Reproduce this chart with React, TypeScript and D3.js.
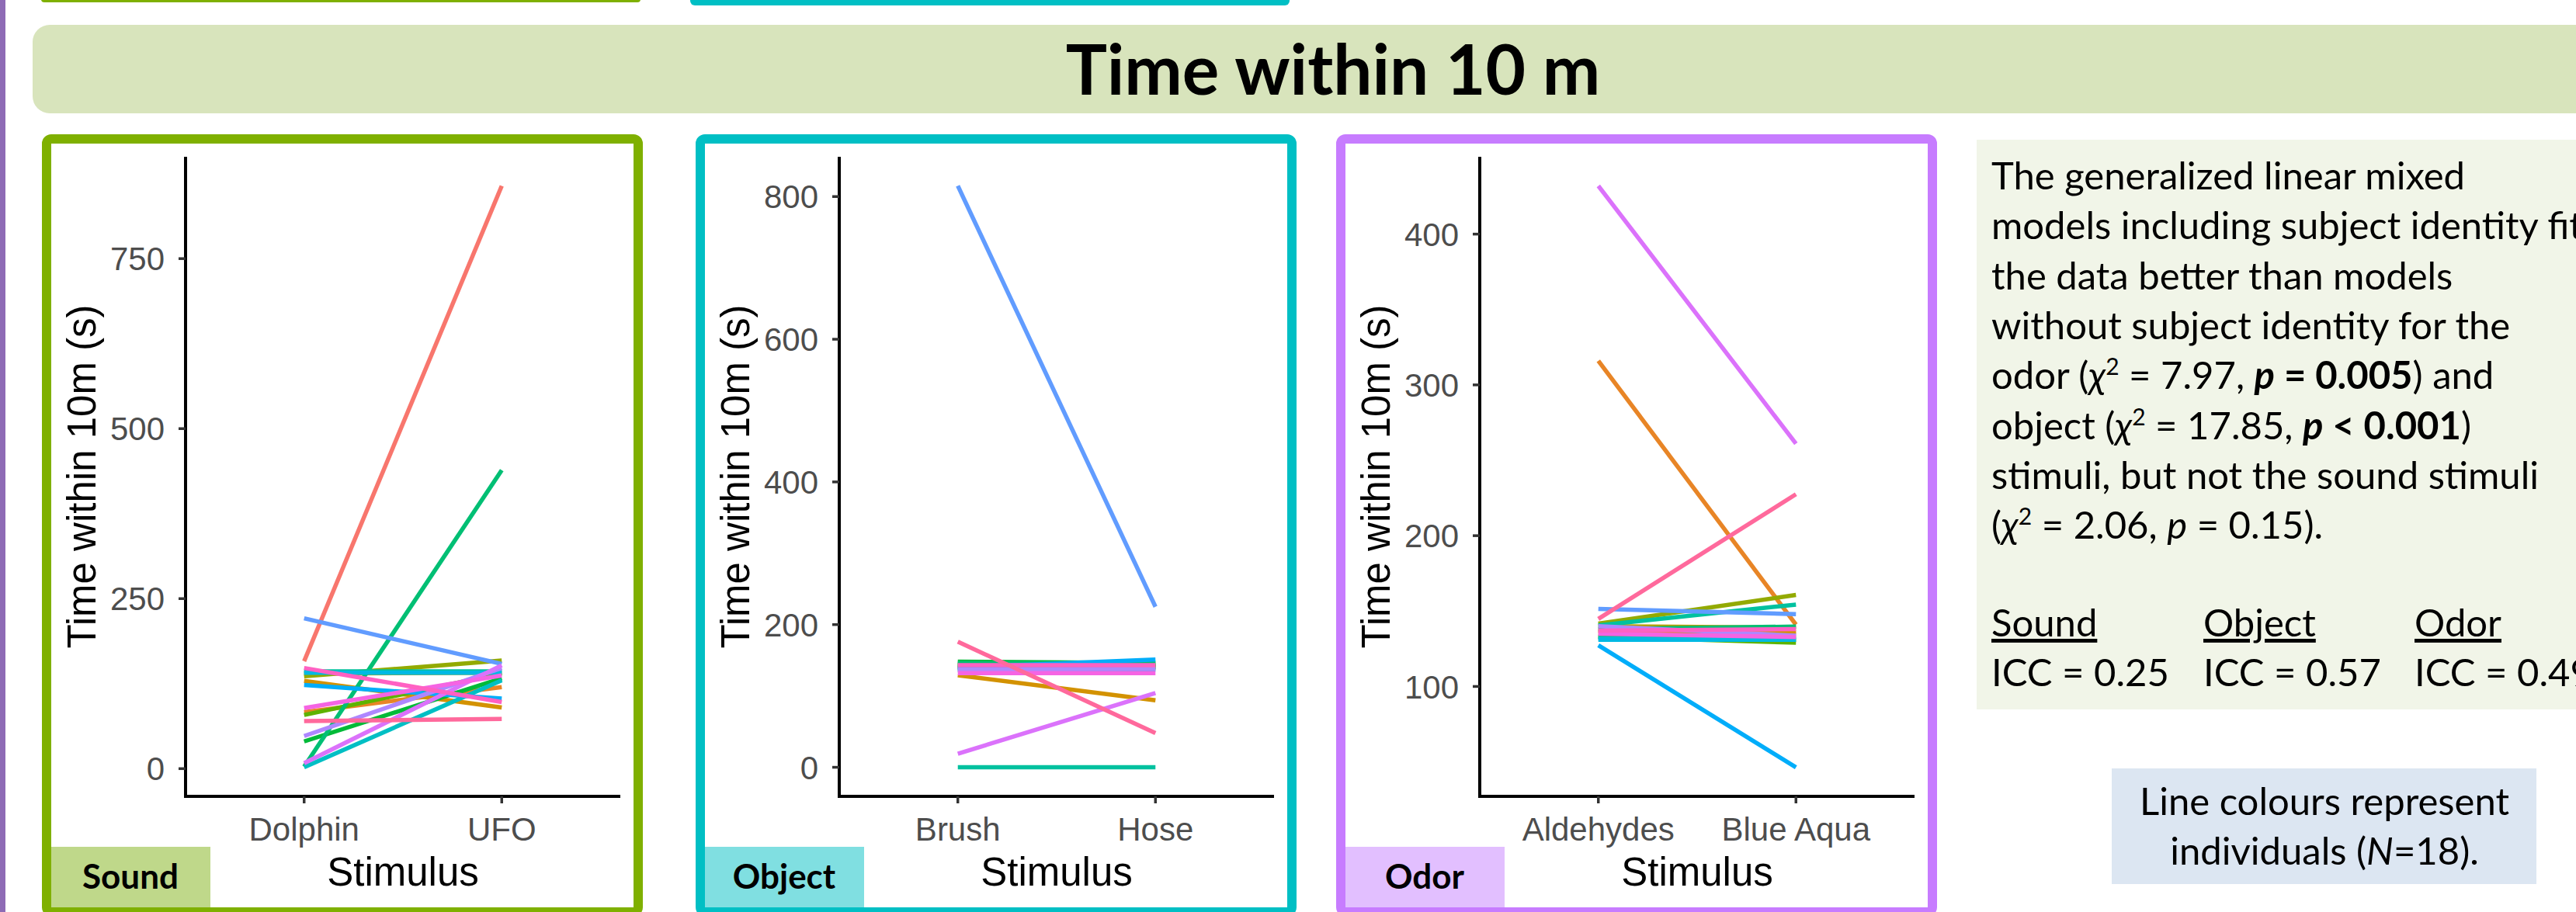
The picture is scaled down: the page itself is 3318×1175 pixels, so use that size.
import React from 'react';
import * as d3 from 'd3';

// one colour per individual (ggplot hue palette, 18 levels)
const individuals = d3.range(1, 19).map(i => `ID${i}`);
const individualColors = [
  '#F8766D', '#E88526', '#D39200', '#B79F00', '#93AA00', '#5EB300',
  '#00BA38', '#00BF74', '#00C19F', '#00BFC4', '#00B9E3', '#00ADFA',
  '#619CFF', '#AE87FF', '#DB72FB', '#F564E3', '#FF61C3', '#FF699C'
];

// Sound
const soundStimuli = ['Dolphin', 'UFO'];
const soundDolphin = [158, 83, 129, 140, 136, 79, 40, 3, 143, 2, 141, 123, 221, 48, 8, 89, 148, 70];
const soundUFO = [857, 120, 90, 141, 159, 140, 133, 439, 143, 130, 141, 103, 154, 148, 152, 137, 98, 73];
const soundTicks = [0, 250, 500, 750];

// Object
const objectStimuli = ['Brush', 'Hose'];
const objectBrush = [140, 138, 129, 141, 142, 144, 148, 146, 0, 139, 136, 140, 815, 137, 19, 132, 143, 176];
const objectHose = [140, 139, 94, 141, 142, 144, 146, 145, 0, 140, 137, 151, 225, 138, 104, 132, 143, 48];
const objectTicks = [0, 200, 400, 600, 800];

// Odor
const odorStimuli = ['Aldehydes', 'Blue Aqua'];
const odorAldehydes = [136, 316, 137, 140, 141.7, 133, 133, 138, 140.5, 132, 131, 127.3, 151.4, 140, 432, 135, 137, 144.8];
const odorBlueAqua = [135, 141, 136, 139, 160.7, 129, 132, 139.7, 154.3, 131, 131, 46.4, 148, 133.7, 261, 132.8, 138, 227.5];
const odorTicks = [100, 200, 300, 400];

const W = 3318;
const H = 1175;
const PLOT_TOP = 202;
const PLOT_BOTTOM = 1026;
const AXIS_FONT = "'Liberation Sans', Arial, sans-serif";
const POSTER_FONT = "Lato, 'Open Sans', sans-serif";

type PanelProps = {
  frameX: number;
  stimuli: string[];
  first: number[];
  second: number[];
  ticks: number[];
  frameColor: string;
  labelFill: string;
  label: string;
};

const LinePanel = ({ frameX, stimuli, first, second, ticks, frameColor, labelFill, label }: PanelProps) => {
  const axisX = frameX + 185;
  const axisRight = axisX + 560;

  const all = first.concat(second);
  const [lo, hi] = d3.extent(all) as [number, number];
  const pad = (hi - lo) * 0.05;
  const y = d3.scaleLinear().domain([lo - pad, hi + pad]).range([PLOT_BOTTOM, PLOT_TOP]);
  const x = d3.scalePoint<string>().domain(stimuli).range([axisX, axisRight]).padding(0.6);

  const line = d3.line<[string, number]>().x(d => x(d[0]) as number).y(d => y(d[1]));

  return (
    <g>
      <rect x={frameX + 6} y={179} width={762} height={996} rx={6}
        fill="#fff" stroke={frameColor} strokeWidth={12} />

      {individuals.map((id, i) => (
        <path key={id} d={line([[stimuli[0], first[i]], [stimuli[1], second[i]]]) || ''}
          fill="none" stroke={individualColors[i]} strokeWidth={5.5} />
      ))}

      {/* y axis */}
      <line x1={axisX} x2={axisX} y1={PLOT_TOP} y2={PLOT_BOTTOM + 2} stroke="#000" strokeWidth={4} />
      {ticks.map(t => (
        <g key={t} transform={`translate(0,${y(t)})`}>
          <line x1={axisX - 9} x2={axisX} stroke="#333" strokeWidth={3.5} />
          <text x={axisX - 27} dy="0.36em" textAnchor="end" fontFamily={AXIS_FONT}
            fontSize={42} fill="#4D4D4D">{t}</text>
        </g>
      ))}
      <text transform={`translate(${axisX - 116},${(PLOT_TOP + PLOT_BOTTOM) / 2}) rotate(-90)`}
        textAnchor="middle" fontFamily={AXIS_FONT} fontSize={51} fill="#000">Time within 10m (s)</text>

      {/* x axis */}
      <line x1={axisX - 2} x2={axisRight} y1={PLOT_BOTTOM} y2={PLOT_BOTTOM} stroke="#000" strokeWidth={4} />
      {stimuli.map(s => (
        <g key={s} transform={`translate(${x(s)},0)`}>
          <line y1={PLOT_BOTTOM} y2={PLOT_BOTTOM + 9} stroke="#333" strokeWidth={3.5} />
          <text y={1083} textAnchor="middle" fontFamily={AXIS_FONT} fontSize={42} fill="#4D4D4D">{s}</text>
        </g>
      ))}
      <text x={(axisX + axisRight) / 2} y={1141} textAnchor="middle" fontFamily={AXIS_FONT}
        fontSize={51} fill="#000">Stimulus</text>

      {/* modality label */}
      <rect x={frameX + 12} y={1091} width={205} height={78} fill={labelFill} />
      <text x={frameX + 114} y={1145} textAnchor="middle" fontFamily={POSTER_FONT}
        fontWeight={700} fontSize={44} fill="#000">{label}</text>
    </g>
  );
};

type Seg = { t: string; b?: boolean; i?: boolean; sup?: boolean };

const noteLines: Seg[][] = [
  [{ t: 'The generalized linear mixed' }],
  [{ t: 'models including subject identity fit' }],
  [{ t: 'the data better than models' }],
  [{ t: 'without subject identity for the' }],
  [{ t: 'odor (' }, { t: 'χ', i: true }, { t: '2', sup: true }, { t: ' = 7.97, ' }, { t: 'p', b: true, i: true }, { t: ' = 0.005', b: true }, { t: ') and' }],
  [{ t: 'object (' }, { t: 'χ', i: true }, { t: '2', sup: true }, { t: ' = 17.85, ' }, { t: 'p', b: true, i: true }, { t: ' < 0.001', b: true }, { t: ')' }],
  [{ t: 'stimuli, but not the sound stimuli' }],
  [{ t: '(' }, { t: 'χ', i: true }, { t: '2', sup: true }, { t: ' = 2.06, ' }, { t: 'p', i: true }, { t: ' = 0.15).' }],
];

const iccHeaders = ['Sound', 'Object', 'Odor'];
const iccValues = ['0.25', '0.57', '0.49'];

const NOTE_SIZE = 49;

const renderLine = (segs: Seg[]) => {
  let prevSup = false;
  return segs.map((s, k) => {
    let dy: number | undefined;
    if (s.sup) dy = -18;
    else if (prevSup) dy = 18;
    prevSup = !!s.sup;
    return (
      <tspan key={k} dy={dy} fontWeight={s.b ? 700 : 400} fontStyle={s.i ? 'italic' : 'normal'}
        fontSize={s.sup ? 30 : NOTE_SIZE}>{s.t}</tspan>
    );
  });
};

const App = () => {
  const iccX = [2565, 2838, 3110];
  return (
    <svg width={W} height={H} style={{ position: 'absolute', left: 0, top: 0, background: '#fff' }}>
      {/* pieces of the row above */}
      <rect x={53} y={-20} width={772} height={23} rx={4} fill="#7FB000" />
      <rect x={889} y={-20} width={772} height={27} rx={6} fill="#00BFC4" />
      <rect x={0} y={0} width={7} height={H} fill="#8E6BB5" />

      {/* section title */}
      <rect x={42} y={32} width={W} height={114} rx={22} fill="#D8E4BC" />
      <text x={1717} y={122} textAnchor="middle" fontFamily={POSTER_FONT} fontWeight={700}
        fontSize={89} fill="#000">Time within 10 m</text>

      <LinePanel frameX={54} stimuli={soundStimuli} first={soundDolphin} second={soundUFO}
        ticks={soundTicks} frameColor="#7FB000" labelFill="#BFD88A" label="Sound" />
      <LinePanel frameX={896} stimuli={objectStimuli} first={objectBrush} second={objectHose}
        ticks={objectTicks} frameColor="#00BFC4" labelFill="#80DFE1" label="Object" />
      <LinePanel frameX={1721} stimuli={odorStimuli} first={odorAldehydes} second={odorBlueAqua}
        ticks={odorTicks} frameColor="#C77CFF" labelFill="#E2BFFF" label="Odor" />

      {/* statistics note */}
      <rect x={2546} y={180} width={800} height={734} fill="#F1F5E8" />
      <g fontFamily={POSTER_FONT} fontSize={NOTE_SIZE} fill="#000">
        {noteLines.map((segs, i) => (
          <text key={i} x={2565} y={244 + i * 64.3}>{renderLine(segs)}</text>
        ))}
        {iccHeaders.map((h, i) => (
          <text key={h} x={iccX[i]} y={820} textDecoration="underline">{h}</text>
        ))}
        {iccValues.map((v, i) => (
          <text key={v} x={iccX[i]} y={884}>ICC = {v}</text>
        ))}
      </g>

      {/* colour note */}
      <rect x={2720} y={990} width={547} height={149} fill="#DCE6F2" />
      <g fontFamily={POSTER_FONT} fontSize={NOTE_SIZE} fill="#000" textAnchor="middle">
        <text x={2994} y={1050}>Line colours represent</text>
        <text x={2994} y={1114}>individuals (<tspan fontStyle="italic">N</tspan>=18).</text>
      </g>
    </svg>
  );
};

export default App;
